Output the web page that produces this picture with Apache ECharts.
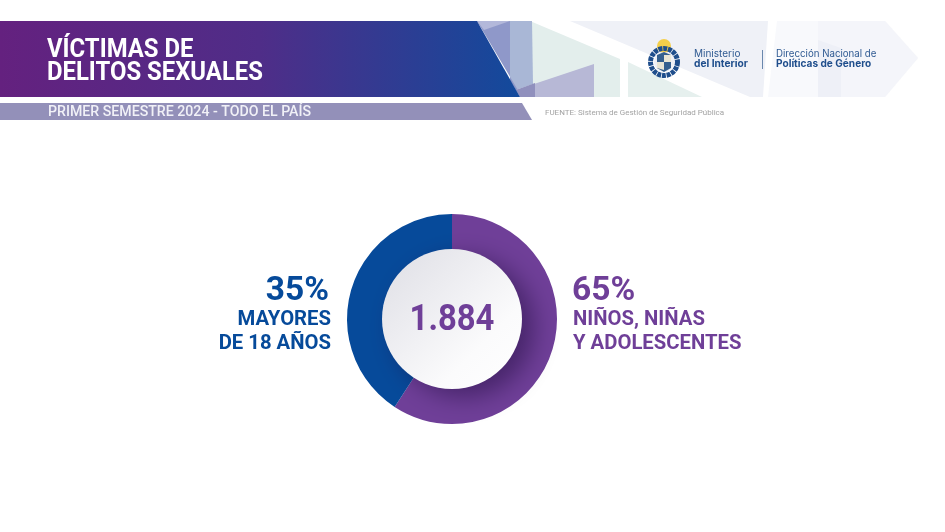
<!DOCTYPE html>
<html>
<head>
<meta charset="utf-8">
<style>
html, body { margin: 0; padding: 0; background: #fff; }
#main { width: 945px; height: 532px; }
</style>
<script src="https://cdn.jsdelivr.net/npm/echarts@6/dist/echarts.min.js"></script>
</head>
<body>
<div id="main"></div>
<script>
var myChart = echarts.init(document.getElementById('main'));

var categories = ['Niños, niñas y adolescentes', 'Mayores de 18 años'];
// shares as the ring is drawn in the picture (the printed labels say 65 / 35)
var ringValues = [59.2, 40.8];
var ringColors = ['#6f3f98', '#064a9a'];
var totalLabel = '1.884';
var titleLines = ['VÍCTIMAS DE', 'DELITOS SEXUALES'];
var subtitle = 'PRIMER SEMESTRE 2024 - TODO EL PAÍS';
var source = 'FUENTE: Sistema de Gestión de Seguridad Pública';
var leftLabels = ['35%', 'MAYORES', 'DE 18 AÑOS'];
var rightLabels = ['65%', 'NIÑOS, NIÑAS', 'Y ADOLESCENTES'];

var font = 'Roboto';
var logoFont = 'Inter';

function poly(points, fill) {
    return { type: 'polygon', silent: true, shape: { points: points }, style: { fill: fill } };
}

function text(x, y, str, size, weight, color, align, scaleX) {
    return {
        type: 'text', x: x, y: y, z: 10, silent: true, scaleX: scaleX || 1,
        style: {
            text: str, font: weight + ' ' + size + 'px ' + font, fill: color,
            textAlign: align || 'left', textVerticalAlign: 'middle'
        }
    };
}

function logoText(x, y, str, size, weight, color) {
    return {
        type: 'text', x: x, y: y, silent: true,
        style: {
            text: str, font: weight + ' ' + size + 'px ' + logoFont, fill: color,
            textAlign: 'left', textVerticalAlign: 'middle'
        }
    };
}

var header = [
    // pale shapes behind the logo
    poly([[570, 21], [768, 21], [763, 97], [750, 97]], '#eff1f7'),
    poly([[777, 21], [885, 21], [918, 58], [885, 97], [768, 97]], '#f8f9fc'),
    poly([[818, 21], [885, 21], [918, 58], [885, 97], [818, 97]], '#f4f5fa'),
    poly([[818, 40], [841, 48], [841, 97], [818, 97]], '#eef0f7'),
    poly([[530, 21], [620, 59], [620, 97], [532, 97]], '#e3eeec'),
    poly([[628, 62], [702, 97], [628, 97]], '#e6f0ee'),
    poly([[510, 21], [532, 21], [533, 84], [516, 90], [510, 80]], '#a9b7d6'),
    poly([[477, 21], [510, 21], [510, 80], [516, 90], [522, 97]], '#8f98c9'),
    poly([[477, 21], [510, 21], [484, 30]], '#b3b8da'),
    poly([[594, 64], [594, 97], [520, 97], [516, 90]], '#b7b8d6'),
    poly([[516, 90], [535, 83], [535, 97], [520, 97]], '#9090bd'),
    // banner
    {
        type: 'polygon', silent: true,
        shape: { points: [[0, 21], [477, 21], [520, 97], [0, 97]] },
        style: {
            fill: new echarts.graphic.LinearGradient(0, 0, 1, 0, [
                { offset: 0, color: '#64217f' },
                { offset: 0.5, color: '#4f2d88' },
                { offset: 1, color: '#124a9c' }
            ])
        }
    },
    poly([[0, 103], [522, 103], [532, 120], [0, 120]], '#9390b9'),
    text(47, 50.5, titleLines[0], 25, 'bold', '#ffffff', 'left', 0.955),
    text(47, 73.5, titleLines[1], 25, 'bold', '#ffffff', 'left', 0.955),
    text(48, 112.5, subtitle, 15.5, '500', '#f1f1f7', 'left', 0.913),
    text(545, 113, source, 8, 'normal', '#a3a3a3'),
    // escudo
    { type: 'circle', silent: true, shape: { cx: 664, cy: 46, r: 7 }, style: { fill: '#f5cf4a' } },
    { type: 'circle', silent: true, shape: { cx: 664, cy: 62, r: 13.5 }, style: { fill: 'none', stroke: '#1f4e8c', lineWidth: 5, lineDash: [4, 0.8] } },
    { type: 'circle', silent: true, shape: { cx: 664, cy: 62, r: 10 }, style: { fill: '#eef0f6' } },
    poly([[657, 55], [664, 52], [671, 55], [671, 68], [664, 72], [657, 68]], '#35608f'),
    poly([[664, 55], [671, 55], [671, 62], [664, 62]], '#e9e6d6'),
    poly([[657, 62], [664, 62], [664, 70], [657, 68]], '#e9e6d6'),
    logoText(694, 54, 'Ministerio', 10, 'normal', '#2f5a92'),
    logoText(694, 64, 'del Interior', 10.2, 'bold', '#1f4e8c'),
    { type: 'rect', silent: true, shape: { x: 762, y: 50, width: 1, height: 19 }, style: { fill: '#6a88ad' } },
    logoText(776, 54.5, 'Dirección Nacional de', 9.7, 'normal', '#2f5a92'),
    logoText(776, 64, 'Políticas de Género', 10.1, 'bold', '#1f4e8c')
];

var sideLabels = [
    text(329, 292, leftLabels[0], 33.5, 'bold', ringColors[1], 'right'),
    text(331, 320, leftLabels[1], 20.3, 'bold', ringColors[1], 'right'),
    text(331, 344, leftLabels[2], 20.3, 'bold', ringColors[1], 'right'),
    text(572, 292, rightLabels[0], 33.5, 'bold', ringColors[0], 'left'),
    text(573, 320, rightLabels[1], 20.3, 'bold', ringColors[0], 'left'),
    text(573, 344, rightLabels[2], 20.3, 'bold', ringColors[0], 'left'),
    text(452, 321, totalLabel, 36.5, 'bold', ringColors[0], 'center', 0.9)
];

var option = {
    backgroundColor: '#ffffff',
    animation: false,
    graphic: { elements: header.concat(sideLabels) },
    series: [
        {
            type: 'pie',
            z: 2,
            silent: true,
            center: [452, 319],
            radius: [60, 105],
            startAngle: 90,
            clockwise: true,
            label: { show: false },
            labelLine: { show: false },
            data: categories.map(function (name, i) {
                return { name: name, value: ringValues[i], itemStyle: { color: ringColors[i] } };
            })
        },
        {
            type: 'pie',
            z: 3,
            silent: true,
            center: [452, 319],
            radius: [0, 70],
            label: { show: false },
            labelLine: { show: false },
            itemStyle: {
                color: new echarts.graphic.LinearGradient(0, 0, 1, 1, [
                    { offset: 0.1, color: '#e2e2e8' },
                    { offset: 0.7, color: '#fbfbfc' },
                    { offset: 1, color: '#ffffff' }
                ]),
                shadowBlur: 24,
                shadowOffsetX: 12,
                shadowOffsetY: 8,
                shadowColor: 'rgba(30, 10, 60, 0.5)'
            },
            data: [{ name: 'Total', value: 1 }]
        }
    ]
};

myChart.setOption(option);
</script>
</body>
</html>
